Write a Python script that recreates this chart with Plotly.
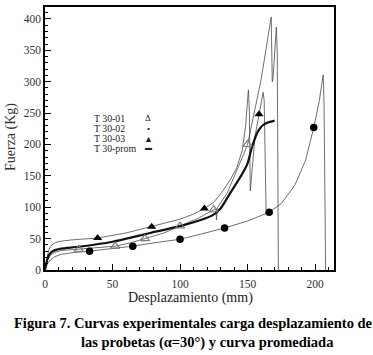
import plotly.graph_objects as go

# ---------------- data ----------------
t01_x = [0, 1, 2, 4, 7, 12, 25, 40, 52, 63, 74, 88, 100, 113, 125, 126.5, 127, 127.6,
         135, 142, 147, 150, 155, 160, 167.5, 168.3, 168.9, 171.3, 172.0, 172.8]
t01_y = [0, 9, 16, 23, 28, 31, 33, 35.5, 38, 43, 50, 59, 70, 82, 96, 98, 80, 99,
         123, 157, 184, 200, 252, 303, 403, 300, 306, 387, 345, 0]

t02_x = [0, 1, 2, 4, 7, 12, 20, 33, 50, 65, 80, 100, 115, 133, 150, 166, 175, 185,
         193, 199, 203, 206, 206.6, 207.2, 207.8]
t02_y = [0, 6, 11, 16, 21, 25, 27.5, 30, 34, 38, 43, 49, 57, 67, 78, 92, 106, 135,
         175, 227, 268, 311, 270, 160, 0]

t03_x = [0, 1, 2, 3, 5, 8, 12, 20, 39, 60, 79, 100, 110, 118, 125, 131, 137, 142,
         146, 148.5, 150.6, 151.3, 152, 153, 155.5, 158.5, 161.5, 162.3, 163.7]
t03_y = [0, 14, 25, 33, 40, 44, 46, 48, 51, 59, 69, 81, 89, 98, 108, 124, 143, 163,
         190, 228, 287, 255, 126, 150, 213, 248, 283, 270, 95]

prom_x = [0, 1, 2, 3, 5, 8, 12, 25, 50, 78, 102, 124, 130, 137, 146, 150, 153, 155,
          157, 159, 161.5, 165, 170]
prom_y = [0, 11, 19, 24, 29, 32, 34, 37, 45, 59, 71, 87, 98, 122, 153, 170, 194, 207,
          218, 225, 231, 235, 238]

# marker positions on the curves
m01_x = [25, 52, 74, 100, 125, 150]
m01_y = [33, 38, 50, 70, 96, 200]
m02_x = [33, 65, 100, 133, 166, 199]
m02_y = [30, 38, 49, 67, 92, 227]
m03_x = [39, 79, 118, 158.5]
m03_y = [51, 69, 98, 248]

legend_labels = ["T 30-01", "T 30-02", "T 30-03", "T 30-prom"]
legend_symbols = ["Δ", "•", "▲", "▬"]

x_title = "Desplazamiento (mm)"
y_title = "Fuerza (Kg)"
caption_1 = "Figura 7. Curvas experimentales carga desplazamiento de"
caption_2 = "las probetas (α=30°) y curva promediada"

# ---------------- figure ----------------
SERIF = "Liberation Serif"
thin = dict(color="#4a4a4a", width=0.8)

fig = go.Figure()
for xs, ys in [(t01_x, t01_y), (t02_x, t02_y), (t03_x, t03_y)]:
    fig.add_trace(go.Scatter(x=xs, y=ys, mode="lines", line=thin,
                             showlegend=False, hoverinfo="skip"))
fig.add_trace(go.Scatter(x=prom_x, y=prom_y, mode="lines",
                         line=dict(color="#111", width=2.2, shape="spline", smoothing=0.6),
                         showlegend=False, hoverinfo="skip"))

fig.add_trace(go.Scatter(x=m01_x, y=m01_y, mode="markers",
                         marker=dict(symbol="triangle-up-open", size=8,
                                     color="#777", line=dict(width=1.1, color="#777")),
                         showlegend=False, hoverinfo="skip"))
fig.add_trace(go.Scatter(x=m02_x, y=m02_y, mode="markers",
                         marker=dict(symbol="circle", size=7.5, color="#000"),
                         showlegend=False, hoverinfo="skip"))
fig.add_trace(go.Scatter(x=m03_x, y=m03_y, mode="markers",
                         marker=dict(symbol="triangle-up", size=8, color="#000"),
                         showlegend=False, hoverinfo="skip"))

axis_common = dict(
    showgrid=False, zeroline=False, showline=True, linecolor="#000", linewidth=1.5,
    mirror=True, ticks="inside", ticklen=6, tickwidth=1.2, tickcolor="#000",
    tickfont=dict(family=SERIF, size=11.5, color="#333"),
    minor=dict(ticks="inside", ticklen=3, tickwidth=0.8, tickcolor="#000", dtick=10),
)
fig.update_xaxes(range=[0, 214], dtick=50, tick0=0, ticklabelstandoff=2, **axis_common)
fig.update_yaxes(range=[0, 419], dtick=50, tick0=0, **axis_common)

annotations = []
leg_y = [117, 127.5, 137.5, 147.5]
for lab, sym, yy in zip(legend_labels, legend_symbols, leg_y):
    annotations.append(dict(xref="paper", yref="paper", x=(92 - 45) / 289,
                            y=(270 - yy) / 265, xanchor="left", yanchor="middle",
                            text=lab, showarrow=False,
                            font=dict(family=SERIF, size=9.8, color="#222")))
    annotations.append(dict(xref="paper", yref="paper", x=(148 - 45) / 289,
                            y=(270 - yy) / 265, xanchor="center", yanchor="middle",
                            text=sym, showarrow=False,
                            font=dict(family=SERIF, size=9 if sym != "▬" else 7,
                                      color="#222")))

annotations.append(dict(xref="paper", yref="paper", x=(190 - 45) / 289,
                        y=(270 - 298) / 265, xanchor="center", yanchor="middle",
                        text=x_title, showarrow=False,
                        font=dict(family=SERIF, size=14, color="#222")))
annotations.append(dict(xref="paper", yref="paper", x=(11 - 45) / 289,
                        y=(270 - 136) / 265, xanchor="center", yanchor="middle",
                        text=y_title, textangle=-90, showarrow=False,
                        font=dict(family=SERIF, size=14, color="#333")))
annotations.append(dict(xref="paper", yref="paper", x=(12 - 45) / 289,
                        y=(270 - 323) / 265, xanchor="left", yanchor="middle",
                        text="<b>" + caption_1 + "</b>", showarrow=False,
                        font=dict(family=SERIF, size=14.5, color="#000")))
annotations.append(dict(xref="paper", yref="paper", x=(207 - 45) / 289,
                        y=(270 - 343) / 265, xanchor="center", yanchor="middle",
                        text="<b>" + caption_2 + "</b>", showarrow=False,
                        font=dict(family=SERIF, size=14.5, color="#000")))

fig.update_layout(
    width=373, height=355,
    margin=dict(l=45, r=39, t=5, b=85),
    paper_bgcolor="white", plot_bgcolor="white",
    annotations=annotations,
    showlegend=False,
)

fig.write_html("out.html", config={"displayModeBar": False},
               post_script="document.body.style.margin='0px';document.body.style.overflow='hidden';")
